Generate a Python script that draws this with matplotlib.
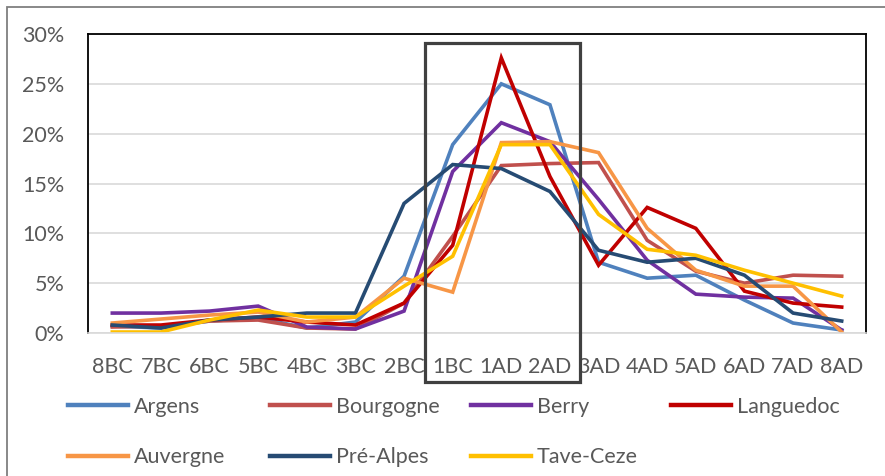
#### Preamble ####
# Purpose: Line chart of regional shares by period (8BC - 8AD), with the 1BC-2AD window boxed.

#### Workspace setup ####
import matplotlib
matplotlib.use("Agg")
import matplotlib.pyplot as plt
from matplotlib.patches import Rectangle
from matplotlib.ticker import FuncFormatter

#### Data ####
periods = ["8BC", "7BC", "6BC", "5BC", "4BC", "3BC", "2BC", "1BC",
           "1AD", "2AD", "3AD", "4AD", "5AD", "6AD", "7AD", "8AD"]

argens = [0.7, 0.5, 1.2, 1.5, 0.5, 1.1, 5.7, 18.9, 25.0, 22.9, 7.1, 5.5, 5.8, 3.3, 1.0, 0.3]
bourgogne = [0.6, 0.7, 1.2, 1.3, 0.5, 0.4, 3.0, 9.7, 16.8, 17.0, 17.1, 9.3, 6.2, 5.0, 5.8, 5.7]
berry = [2.0, 2.0, 2.2, 2.7, 0.6, 0.4, 2.2, 16.2, 21.1, 19.2, 13.4, 7.3, 3.9, 3.6, 3.5, 0.3]
languedoc = [0.8, 0.8, 1.3, 1.6, 1.1, 0.8, 3.0, 8.8, 27.6, 15.7, 6.8, 12.6, 10.5, 4.2, 3.0, 2.6]
auvergne = [1.0, 1.4, 1.8, 2.1, 1.1, 1.6, 5.5, 4.1, 19.1, 19.2, 18.1, 10.5, 6.3, 4.7, 4.7, 0.1]
pre_alpes = [0.8, 0.5, 1.3, 1.6, 2.0, 2.0, 13.0, 16.9, 16.5, 14.2, 8.3, 7.1, 7.5, 5.8, 2.0, 1.2]
tave_ceze = [0.1, 0.1, 1.3, 2.3, 1.6, 1.6, 4.7, 7.7, 18.9, 18.9, 11.9, 8.4, 7.8, 6.3, 5.0, 3.7]

series_names = ["Argens", "Bourgogne", "Berry", "Languedoc",
                "Auvergne", "Pré-Alpes", "Tave-Ceze"]
series_values = [argens, bourgogne, berry, languedoc, auvergne, pre_alpes, tave_ceze]
series_colors = ["#4F81BD", "#C0504D", "#7030A0", "#C00000",
                 "#F79646", "#264B73", "#FFC000"]

y_ticks = [0, 5, 10, 15, 20, 25, 30]

# highlighted window: 1BC to 2AD
box_start, box_end = "1BC", "2AD"


#### MAIN FUNCTION ####
def main():
    plt.rcParams["font.family"] = ["Lato", "DejaVu Sans"]
    text_grey = "#595959"

    fig = plt.figure(figsize=(8.85, 4.76), dpi=100)
    ax = fig.add_axes([88 / 885, 1 - 333 / 476, 778 / 885, 299 / 476])

    x = list(range(len(periods)))
    handles = []
    for name, vals, col in zip(series_names, series_values, series_colors):
        (ln,) = ax.plot(x, vals, color=col, lw=2.6, label=name,
                        solid_joinstyle="miter")
        handles.append(ln)

    # axes styling, excel look
    ax.set_xlim(-0.5, len(periods) - 0.5)
    ax.set_ylim(0, 30)
    ax.set_yticks(y_ticks)
    ax.yaxis.set_major_formatter(FuncFormatter(lambda v, p: f"{v:.0f}%"))
    ax.set_xticks(x)
    ax.set_xticklabels(periods)
    ax.tick_params(length=0, labelsize=15.5, colors=text_grey)
    ax.tick_params(axis="y", pad=17)
    ax.tick_params(axis="x", pad=17)
    ax.grid(axis="y", color="#D9D9D9", lw=1.2)
    ax.set_axisbelow(True)
    for side in ["left", "top", "right"]:
        ax.spines[side].set_color("black")
        ax.spines[side].set_linewidth(1.3)
    ax.spines["bottom"].set_color("#D9D9D9")
    ax.spines["bottom"].set_linewidth(1.2)

    # box around 1BC..2AD, spills below the axis
    i0 = periods.index(box_start)
    i1 = periods.index(box_end)
    box = Rectangle((i0 - 0.57, -4.95), (i1 - i0) + 1.19, 34.05,
                    fill=False, edgecolor="#404040", lw=2.3, clip_on=False,
                    zorder=5)
    ax.add_patch(box)

    # legend: excel grid of 4 columns x 2 rows
    col_x = [68 / 885, 270 / 885, 471 / 885, 671 / 885]
    columns = [[0, 4], [1, 5], [2, 6], [3]]
    for cx, idxs in zip(col_x, columns):
        leg = fig.legend([handles[i] for i in idxs], [series_names[i] for i in idxs],
                         loc="upper left", bbox_to_anchor=(cx, 1 - 397 / 476),
                         frameon=False, fontsize=15.5, handlelength=2.8,
                         handletextpad=0.25, labelspacing=1.4,
                         borderaxespad=0, borderpad=0)
        for t in leg.get_texts():
            t.set_color(text_grey)
        for h in leg.legend_handles:
            h.set_linewidth(3.2)

    # outer chart border
    fig.add_artist(Rectangle((7 / 885, -0.05), 1.1, 1 - 7 / 476 + 0.05,
                             transform=fig.transFigure, fill=False,
                             edgecolor="#7F7F7F", lw=1.3))

    fig.savefig("out.png", dpi=100)
    plt.close(fig)


#### ENTRY POINT ####
if __name__ == "__main__":
    main()
